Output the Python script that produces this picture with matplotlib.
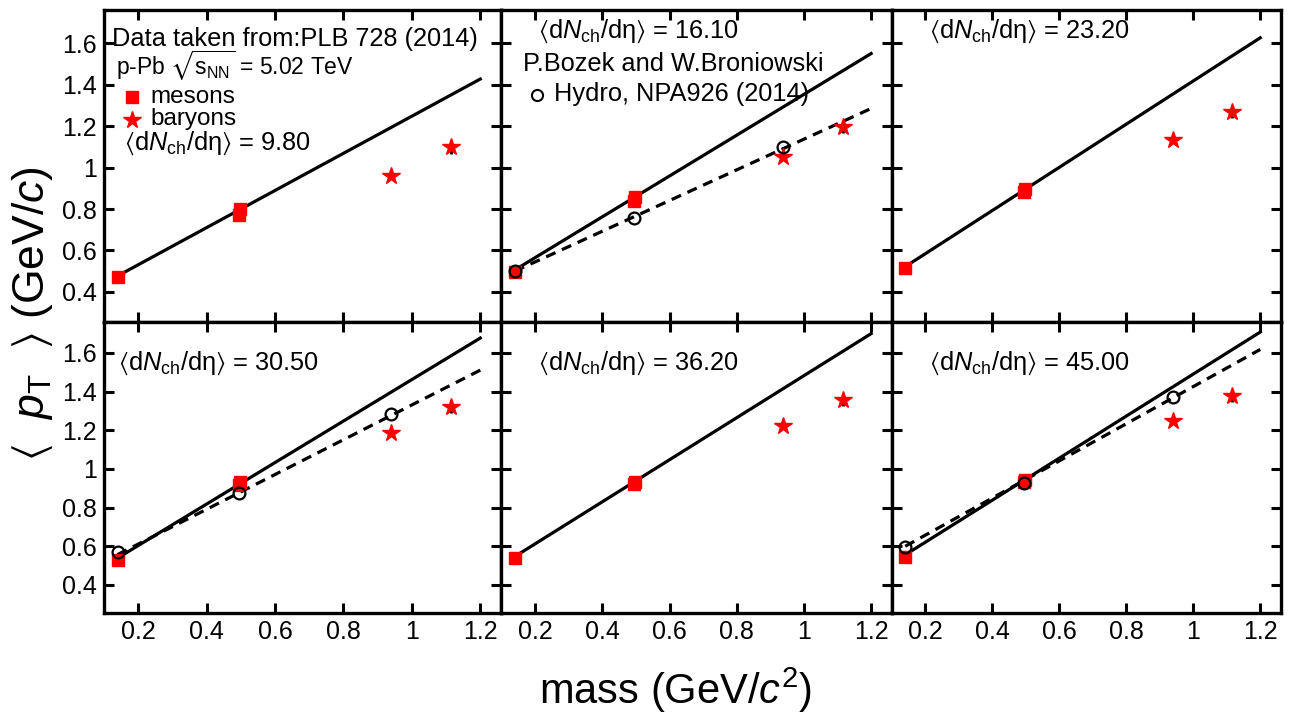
import numpy as np
import matplotlib
matplotlib.use("Agg")
import matplotlib.pyplot as plt
from matplotlib.ticker import MultipleLocator, FuncFormatter


# Fonts (ROOT-like Helvetica look)
plt.rcParams['font.family'] = ['Liberation Sans', 'DejaVu Sans']
plt.rcParams['mathtext.fontset'] = 'custom'
plt.rcParams['mathtext.rm'] = 'Liberation Sans'
plt.rcParams['mathtext.it'] = 'Liberation Sans:italic'
plt.rcParams['mathtext.bf'] = 'Liberation Sans:bold'
plt.rcParams['mathtext.fallback'] = 'stixsans'

### Data
dndeta = ["9.80", "16.10", "23.20", "30.50", "36.20", "45.00"]

meson_mass  = [0.1396, 0.4937, 0.4976]     # pi, K, K0s
baryon_mass = [0.9383, 1.1157]             # p, Lambda
hydro_mass  = [0.1396, 0.4937, 0.9383]     # pi, K, p

meson_pt = [[0.474, 0.772, 0.798],
            [0.498, 0.838, 0.857],
            [0.514, 0.880, 0.895],
            [0.530, 0.915, 0.930],
            [0.539, 0.920, 0.935],
            [0.544, 0.932, 0.945]]

baryon_pt = [[0.959, 1.097],
             [1.052, 1.197],
             [1.133, 1.269],
             [1.184, 1.321],
             [1.223, 1.356],
             [1.248, 1.377]]

lambda_err = [0.030, 0.030, 0.030, 0.030, 0.030, 0.030]

hydro_pt = [None,
            [0.500, 0.755, 1.100],
            None,
            [0.570, 0.874, 1.284],
            None,
            [0.596, 0.929, 1.370]]

# linear fits, evaluated at line_x
line_x    = [0.1396, 1.2]
fit_pt    = [[0.477, 1.427],
             [0.506, 1.550],
             [0.522, 1.626],
             [0.539, 1.677],
             [0.547, 1.700],
             [0.556, 1.708]]
hydro_fit = [None,
             [0.500, 1.285],
             None,
             [0.557, 1.511],
             None,
             [0.600, 1.618]]

# Figure
W, H = 1301, 713
fig = plt.figure(figsize=(W/100, H/100), dpi=100)
gs = fig.add_gridspec(2, 3, left=104/W, right=1281/W, top=1-10/H, bottom=1-613/H,
                      wspace=0, hspace=0, width_ratios=[397.5, 390.5, 389],
                      height_ratios=[312, 291])

fmt = FuncFormatter(lambda v, p: f"{v:g}")
TXT = 18.3

for i in range(6):
    r, c = divmod(i, 3)
    ax = fig.add_subplot(gs[r, c])

    ax.plot(line_x, fit_pt[i], color='black', linewidth=2.3, zorder=2)
    if hydro_fit[i] is not None:
        ax.plot(line_x, hydro_fit[i], color='black', linewidth=2.3,
                linestyle=(0, (3.2, 2.2)), zorder=2)

    ax.errorbar(baryon_mass[1], baryon_pt[i][1], yerr=lambda_err[i], color='black',
                linewidth=2, capsize=0, zorder=3)
    ax.plot(meson_mass, meson_pt[i], color='red', marker='s', markersize=8.5,
            linestyle='', zorder=4)
    ax.plot(baryon_mass, baryon_pt[i], color='red', marker='*', markersize=13,
            linestyle='', zorder=4)
    if hydro_pt[i] is not None:
        ax.plot(hydro_mass, hydro_pt[i], color='black', marker='o', markersize=8.5,
                markerfacecolor='none', markeredgewidth=1.6, linestyle='', zorder=5)

    ax.set_xlim(0.1, 1.262)
    ax.set_ylim(0.255, 1.76)
    ax.xaxis.set_major_locator(MultipleLocator(0.2))
    ax.yaxis.set_major_locator(MultipleLocator(0.2))
    ax.xaxis.set_major_formatter(fmt)
    ax.yaxis.set_major_formatter(fmt)
    ax.tick_params(direction='in', top=True, right=True, length=7, width=2.2,
                   labelsize=18, pad=5)
    for s in ax.spines.values():
        s.set_linewidth(2.4)
    if c != 0:
        ax.tick_params(labelleft=False)
    if r == 0:
        ax.tick_params(labelbottom=False)

    # annotations
    lab = r'$\langle$d$N_{\rm ch}$/d$\mathrm{\eta}\rangle$ = ' + dndeta[i]
    if i == 0:
        ax.text(0.02, 0.908, 'Data taken from:PLB 728 (2014)', transform=ax.transAxes,
                fontsize=TXT, va='center', ha='left')
        ax.text(0.03, 0.822, r'p-Pb $\sqrt{\mathrm{s}_{\rm NN}}$ = 5.02 TeV',
                transform=ax.transAxes, fontsize=16.5, va='center', ha='left')
        ax.plot([0.07], [0.72], transform=ax.transAxes, color='red', marker='s',
                markersize=8.5, linestyle='')
        ax.text(0.116, 0.722, 'mesons', transform=ax.transAxes, fontsize=17.5,
                va='center', ha='left')
        ax.plot([0.07], [0.648], transform=ax.transAxes, color='red', marker='*',
                markersize=13, linestyle='')
        ax.text(0.116, 0.65, 'baryons', transform=ax.transAxes, fontsize=17.5,
                va='center', ha='left')
        ax.text(0.05, 0.572, lab, transform=ax.transAxes, fontsize=TXT,
                va='center', ha='left')
    elif r == 0:
        ax.text(0.094, 0.93, lab, transform=ax.transAxes, fontsize=TXT,
                va='center', ha='left')
    else:
        ax.text(0.035 if c == 0 else 0.094, 0.859, lab, transform=ax.transAxes,
                fontsize=TXT, va='center', ha='left')
    if i == 1:
        ax.text(0.055, 0.827, 'P.Bozek and W.Broniowski', transform=ax.transAxes,
                fontsize=TXT, va='center', ha='left')
        ax.plot([0.091], [0.728], transform=ax.transAxes, color='black', marker='o',
                markersize=8, markerfacecolor='none', markeredgewidth=1.5, linestyle='')
        ax.text(0.134, 0.73, 'Hydro, NPA926 (2014)', transform=ax.transAxes,
                fontsize=TXT, va='center', ha='left')

fig.text(0.025, 0.56, r'$\langle\ \ p_{\rm T}\ \ \rangle$ (GeV/$c$)', rotation=90,
         fontsize=32, ha='center', va='center')
fig.text(0.519, 0.032, r'mass (GeV/$c^{2}$)', fontsize=30, ha='center', va='center')

plt.savefig("out.png", dpi=100)
plt.close()
